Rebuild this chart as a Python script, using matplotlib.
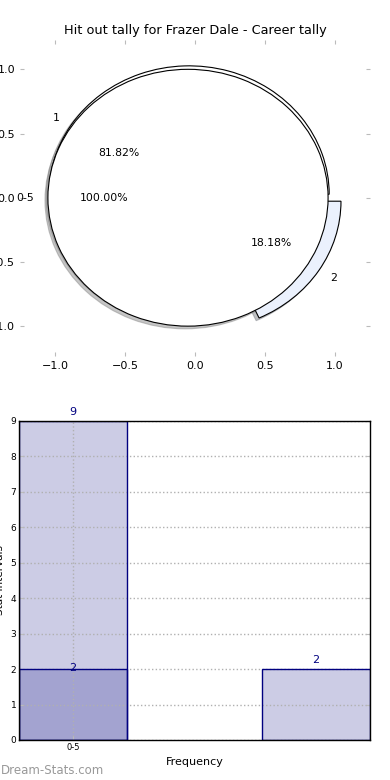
import matplotlib
matplotlib.use('Agg')
import matplotlib.pyplot as plt

# pie data
outer_labels = ['1', '2']
outer_values = [9, 2]
inner_labels = ['0-5']
inner_values = [1]

# bar data
bar_positions = [0, 1]
bar_values = [9, 2]
dark_positions = [0]
dark_values = [2]
tick_labels = ['0-5']

fig = plt.figure(figsize=(3.9, 7.8), dpi=100)

# pie chart on top
shadow = {'ox': -0.015, 'oy': -0.015, 'shade': 0.45}
ax1 = fig.add_axes([0.051, 0.544, 0.898, 0.405])
ax1.pie(outer_values, labels=outer_labels, colors=['white', '#ebf1fd'],
        explode=[0.05, 0.05], autopct='%1.2f%%', shadow=shadow, frame=True,
        wedgeprops={'edgecolor': 'black', 'linewidth': 0.8},
        textprops={'fontsize': 7.8})
ax1.pie(inner_values, labels=inner_labels, colors=['white'],
        explode=[0.05], autopct='%1.2f%%', shadow=shadow, frame=True,
        wedgeprops={'edgecolor': 'black', 'linewidth': 0.8},
        textprops={'fontsize': 7.8})
ax1.set_aspect('auto')
ax1.set_xlim(-1.25, 1.25)
ax1.set_ylim(-1.23, 1.23)
ax1.set_xticks([-1.0, -0.5, 0.0, 0.5, 1.0])
ax1.set_yticks([-1.0, -0.5, 0.0, 0.5, 1.0])
for s in ax1.spines.values():
    s.set_visible(False)
ax1.tick_params(direction='in', length=3, color='#bbbbbb', labelsize=8,
                top=True, right=True)
ax1.set_title('Hit out tally for Frazer Dale - Career tally', fontsize=9.3, pad=4.5)

# bar chart at the bottom
w = 0.445
ax2 = fig.add_axes([0.0487, 0.0513, 0.9, 0.409])
ax2.bar(bar_positions, bar_values, width=w, color='navy', alpha=0.2,
        edgecolor='none', zorder=1)
ax2.bar(bar_positions, bar_values, width=w, color='none', edgecolor='navy',
        linewidth=1, zorder=3)
ax2.bar(dark_positions, dark_values, width=w, color='navy', alpha=0.2,
        edgecolor='none', zorder=1)
ax2.bar(dark_positions, dark_values, width=w, color='none', edgecolor='navy',
        linewidth=1, zorder=3)
for x, v in zip(bar_positions, bar_values):
    ax2.text(x, v + 0.12, str(v), ha='center', va='bottom', color='navy', fontsize=8)
for x, v in zip(dark_positions, dark_values):
    ax2.text(x, v - 0.1, str(v), ha='center', va='bottom', color='navy', fontsize=8)

ax2.set_xlim(-w / 2, 1 + w / 2)
ax2.set_ylim(0, 9)
ax2.set_yticks(range(0, 10))
ax2.set_xticks([0])
ax2.set_xticklabels(tick_labels)
ax2.grid(True, linestyle=':', color='#b0b0b0', linewidth=1)
ax2.set_axisbelow(False)
ax2.tick_params(direction='in', length=3, color='#bbbbbb', labelsize=6.5,
                right=True, pad=2)
ax2.tick_params(axis='x', labelsize=6)
for s in ax2.spines.values():
    s.set_color('black')
    s.set_linewidth(1)
    s.set_zorder(5)
ax2.set_xlabel('Frequency', fontsize=8)
ax2.set_ylabel('Stat Intervals', fontsize=7.5)
ax2.yaxis.set_label_coords(-0.04, 0.5)

fig.text(0.003, 0.008, 'Dream-Stats.com', color='#999999', fontsize=8.5)

fig.savefig('out.png', dpi=100)
